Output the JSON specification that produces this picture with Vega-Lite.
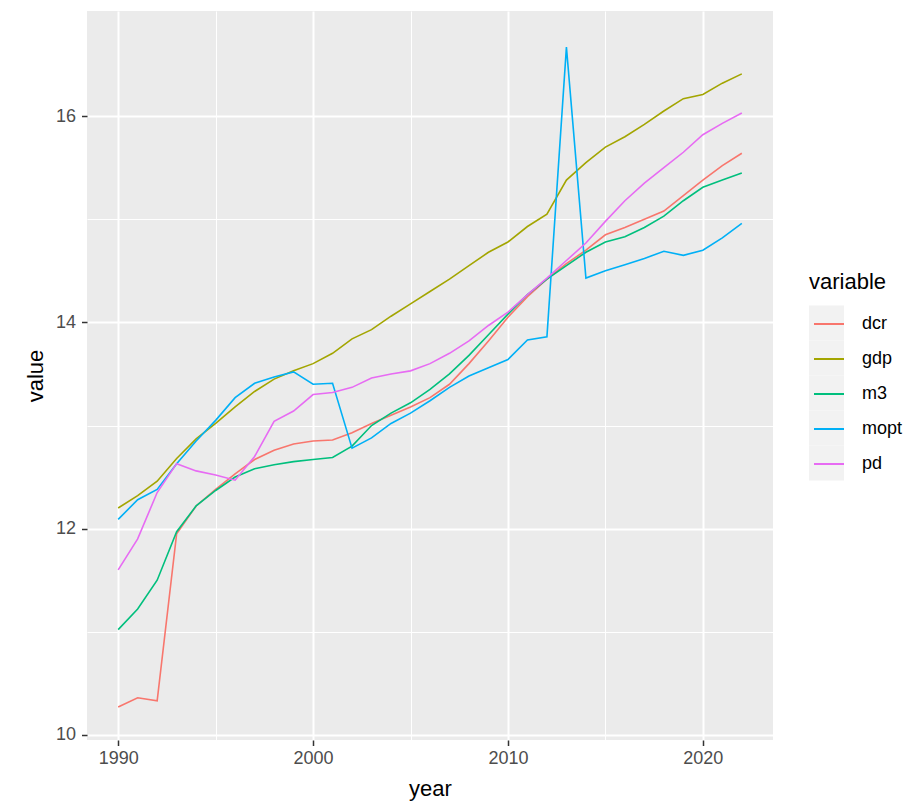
{
  "$schema": "https://vega.github.io/schema/vega-lite/v6.json",
  "width": 686,
  "height": 729,
  "autosize": {"type": "none"},
  "padding": {"left": 87, "top": 11, "right": 132, "bottom": 61},
  "background": "white",
  "view": {"fill": "#EBEBEB", "stroke": null},
  "config": {
    "font": "Liberation Sans",
    "view": {"fill": "#EBEBEB", "stroke": null},
    "style": {"cell": {"fill": "#EBEBEB", "stroke": null}}
  },
  "layer": [
    {
      "data": {"values": [
        {"year": 1990, "dcr": 10.27, "gdp": 12.20, "m3": 11.02, "mopt": 12.09, "pd": 11.60},
        {"year": 1991, "dcr": 10.36, "gdp": 12.32, "m3": 11.22, "mopt": 12.28, "pd": 11.90},
        {"year": 1992, "dcr": 10.33, "gdp": 12.46, "m3": 11.50, "mopt": 12.38, "pd": 12.35},
        {"year": 1993, "dcr": 11.95, "gdp": 12.68, "m3": 11.97, "mopt": 12.63, "pd": 12.63},
        {"year": 1994, "dcr": 12.22, "gdp": 12.87, "m3": 12.22, "mopt": 12.85, "pd": 12.56},
        {"year": 1995, "dcr": 12.38, "gdp": 13.02, "m3": 12.37, "mopt": 13.05, "pd": 12.52},
        {"year": 1996, "dcr": 12.53, "gdp": 13.18, "m3": 12.50, "mopt": 13.27, "pd": 12.47},
        {"year": 1997, "dcr": 12.67, "gdp": 13.33, "m3": 12.58, "mopt": 13.41, "pd": 12.70},
        {"year": 1998, "dcr": 12.76, "gdp": 13.45, "m3": 12.62, "mopt": 13.47, "pd": 13.04},
        {"year": 1999, "dcr": 12.82, "gdp": 13.53, "m3": 12.65, "mopt": 13.52, "pd": 13.14},
        {"year": 2000, "dcr": 12.85, "gdp": 13.60, "m3": 12.67, "mopt": 13.40, "pd": 13.30},
        {"year": 2001, "dcr": 12.86, "gdp": 13.70, "m3": 12.69, "mopt": 13.41, "pd": 13.32},
        {"year": 2002, "dcr": 12.93, "gdp": 13.84, "m3": 12.80, "mopt": 12.78, "pd": 13.37},
        {"year": 2003, "dcr": 13.02, "gdp": 13.93, "m3": 13.00, "mopt": 12.88, "pd": 13.46},
        {"year": 2004, "dcr": 13.10, "gdp": 14.06, "m3": 13.12, "mopt": 13.02, "pd": 13.50},
        {"year": 2005, "dcr": 13.18, "gdp": 14.18, "m3": 13.22, "mopt": 13.12, "pd": 13.53},
        {"year": 2006, "dcr": 13.27, "gdp": 14.30, "m3": 13.35, "mopt": 13.24, "pd": 13.60},
        {"year": 2007, "dcr": 13.40, "gdp": 14.42, "m3": 13.50, "mopt": 13.37, "pd": 13.70},
        {"year": 2008, "dcr": 13.60, "gdp": 14.55, "m3": 13.68, "mopt": 13.48, "pd": 13.82},
        {"year": 2009, "dcr": 13.82, "gdp": 14.68, "m3": 13.88, "mopt": 13.56, "pd": 13.97},
        {"year": 2010, "dcr": 14.05, "gdp": 14.78, "m3": 14.08, "mopt": 13.64, "pd": 14.10},
        {"year": 2011, "dcr": 14.25, "gdp": 14.93, "m3": 14.27, "mopt": 13.83, "pd": 14.27},
        {"year": 2012, "dcr": 14.42, "gdp": 15.05, "m3": 14.42, "mopt": 13.86, "pd": 14.43},
        {"year": 2013, "dcr": 14.57, "gdp": 15.38, "m3": 14.55, "mopt": 16.67, "pd": 14.60},
        {"year": 2014, "dcr": 14.70, "gdp": 15.55, "m3": 14.68, "mopt": 14.43, "pd": 14.77},
        {"year": 2015, "dcr": 14.85, "gdp": 15.70, "m3": 14.78, "mopt": 14.50, "pd": 14.98},
        {"year": 2016, "dcr": 14.92, "gdp": 15.80, "m3": 14.83, "mopt": 14.56, "pd": 15.18},
        {"year": 2017, "dcr": 15.00, "gdp": 15.92, "m3": 14.92, "mopt": 14.62, "pd": 15.35},
        {"year": 2018, "dcr": 15.08, "gdp": 16.05, "m3": 15.03, "mopt": 14.69, "pd": 15.50},
        {"year": 2019, "dcr": 15.23, "gdp": 16.17, "m3": 15.18, "mopt": 14.65, "pd": 15.65},
        {"year": 2020, "dcr": 15.38, "gdp": 16.21, "m3": 15.31, "mopt": 14.70, "pd": 15.82},
        {"year": 2021, "dcr": 15.52, "gdp": 16.32, "m3": 15.38, "mopt": 14.82, "pd": 15.93},
        {"year": 2022, "dcr": 15.64, "gdp": 16.41, "m3": 15.45, "mopt": 14.96, "pd": 16.03}
      ]},
      "transform": [{"fold": ["dcr", "gdp", "m3", "mopt", "pd"], "as": ["variable", "value"]}],
      "mark": {"type": "line", "strokeWidth": 1.6},
      "encoding": {
        "x": {
          "field": "year", "type": "quantitative",
          "scale": {"domain": [1988.4, 2023.6], "nice": false, "zero": false},
          "axis": {
            "title": "year",
            "values": [1990, 1995, 2000, 2005, 2010, 2015, 2020],
            "format": "d",
            "labelExpr": "datum.value % 10 == 0 ? datum.label : ''",
            "domain": false,
            "grid": true,
            "gridColor": "white",
            "gridWidth": {"condition": {"test": "datum.value % 10 != 0", "value": 1}, "value": 2},
            "tickOpacity": {"condition": {"test": "datum.value % 10 != 0", "value": 0}, "value": 1},
            "tickColor": "#333333",
            "tickWidth": 1.5,
            "tickSize": 5.5,
            "labelFontSize": 18,
            "labelColor": "#4D4D4D",
            "labelPadding": 4,
            "titleFontSize": 22,
            "titleFontWeight": "normal",
            "titleColor": "black",
            "titleX": 343,
            "titleY": 48,
            "titleBaseline": "middle",
            "titleAlign": "center"
          }
        },
        "y": {
          "field": "value", "type": "quantitative",
          "scale": {"domain": [9.95, 17.02], "nice": false, "zero": false},
          "axis": {
            "title": "value",
            "values": [10, 11, 12, 13, 14, 15, 16],
            "labelExpr": "datum.value % 2 == 0 ? datum.label : ''",
            "domain": false,
            "grid": true,
            "gridColor": "white",
            "gridWidth": {"condition": {"test": "datum.value % 2 != 0", "value": 1}, "value": 2},
            "tickOpacity": {"condition": {"test": "datum.value % 2 != 0", "value": 0}, "value": 1},
            "tickColor": "#333333",
            "tickWidth": 1.5,
            "tickSize": 5.5,
            "labelFontSize": 18,
            "labelColor": "#4D4D4D",
            "labelPadding": 6,
            "titleFontSize": 22,
            "titleFontWeight": "normal",
            "titleColor": "black",
            "titleAngle": -90,
            "titleX": -52,
            "titleY": 364.5,
            "titleBaseline": "middle",
            "titleAlign": "center"
          }
        },
        "color": {
          "field": "variable", "type": "nominal",
          "scale": {"domain": ["dcr", "gdp", "m3", "mopt", "pd"], "range": ["#F8766D", "#A3A500", "#00BF7D", "#00B0F6", "#E76BF3"]},
          "legend": {
            "orient": "none",
            "legendX": 726,
            "legendY": 297,
            "zindex": 2,
            "title": null,
            "symbolType": "stroke",
            "symbolSize": 900,
            "symbolStrokeWidth": 2,
            "labelFontSize": 18,
            "labelColor": "black",
            "labelOffset": 17,
            "rowPadding": 10
          }
        }
      }
    },
    {
      "data": {"values": [
        {"key": "k1"}, {"key": "k2"}, {"key": "k3"}, {"key": "k4"}, {"key": "k5"}
      ]},
      "mark": {"type": "point", "filled": true, "opacity": 0, "size": 0},
      "encoding": {
        "fill": {
          "field": "key", "type": "nominal",
          "scale": {"domain": ["k1", "k2", "k3", "k4", "k5"], "range": ["#F2F2F2", "#F2F2F2", "#F2F2F2", "#F2F2F2", "#F2F2F2"]},
          "legend": {
            "orient": "none",
            "legendX": 722,
            "legendY": 261,
            "zindex": 1,
            "title": "variable",
            "titleFontSize": 22,
            "titleFontWeight": "normal",
            "titleColor": "black",
            "titlePadding": 11.5,
            "symbolType": "square",
            "symbolSize": 1225,
            "symbolStrokeWidth": 0,
            "symbolOpacity": 1,
            "labelFontSize": 18,
            "labelExpr": "''",
            "rowPadding": 0
          }
        }
      }
    }
  ]
}
